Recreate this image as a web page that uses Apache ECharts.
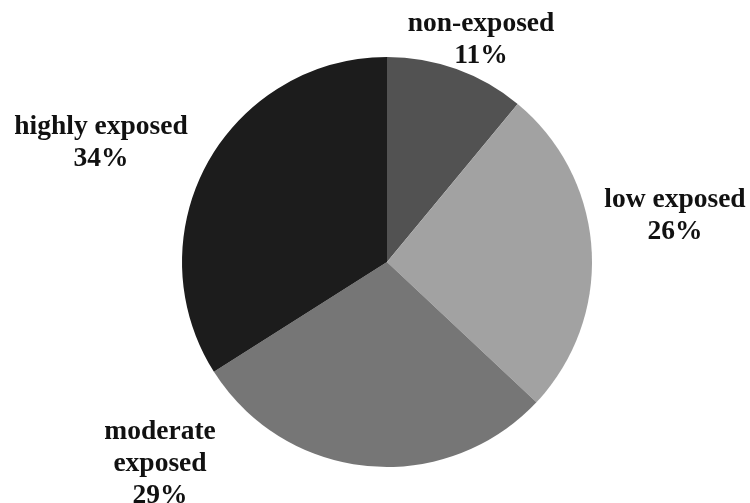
<!DOCTYPE html>
<html>
<head>
<meta charset="utf-8">
<script src="https://cdn.jsdelivr.net/npm/echarts@6/dist/echarts.min.js"></script>
<style>
  html, body { margin: 0; padding: 0; background: #ffffff; }
  #chart { width: 750px; height: 503px; }
</style>
</head>
<body>
<div id="chart"></div>
<script>
// Exposure groups, clockwise from 12 o'clock
const categories = ['non-exposed', 'low exposed', 'moderate exposed', 'highly exposed'];
const shares = [11, 26, 29, 34];
const sliceColors = ['#525252', '#a2a2a2', '#767676', '#1c1c1c'];

// Label anchor (centre of text block) for each group, in pixels
const labelSpots = {
  'non-exposed': [481, 40],
  'low exposed': [675, 216],
  'moderate exposed': [160, 464],
  'highly exposed': [101, 143]
};

const chart = echarts.init(document.getElementById('chart'), null, { renderer: 'canvas' });

chart.setOption({
  animation: false,
  backgroundColor: '#ffffff',
  series: [{
    type: 'pie',
    center: [387, 262],
    radius: 205,
    startAngle: 90,
    clockwise: true,
    label: {
      show: true,
      position: 'outside',
      alignTo: 'none',
      overflow: 'none',
      width: 300,
      fontFamily: 'Liberation Serif',
      fontWeight: 'bold',
      fontSize: 27.5,
      lineHeight: 32,
      color: '#111111',
      align: 'center',
      formatter: function (p) {
        const name = p.name === 'moderate exposed' ? 'moderate\nexposed' : p.name;
        return name + '\n' + p.value + '%';
      }
    },
    labelLine: { show: false },
    labelLayout: function (params) {
      const name = categories[params.dataIndex];
      const spot = labelSpots[name];
      return { x: spot[0], y: spot[1], align: 'center', verticalAlign: 'middle' };
    },
    itemStyle: { borderWidth: 0 },
    emphasis: { disabled: true },
    data: categories.map(function (c, i) {
      return { name: c, value: shares[i], itemStyle: { color: sliceColors[i] } };
    })
  }]
});
</script>
</body>
</html>
